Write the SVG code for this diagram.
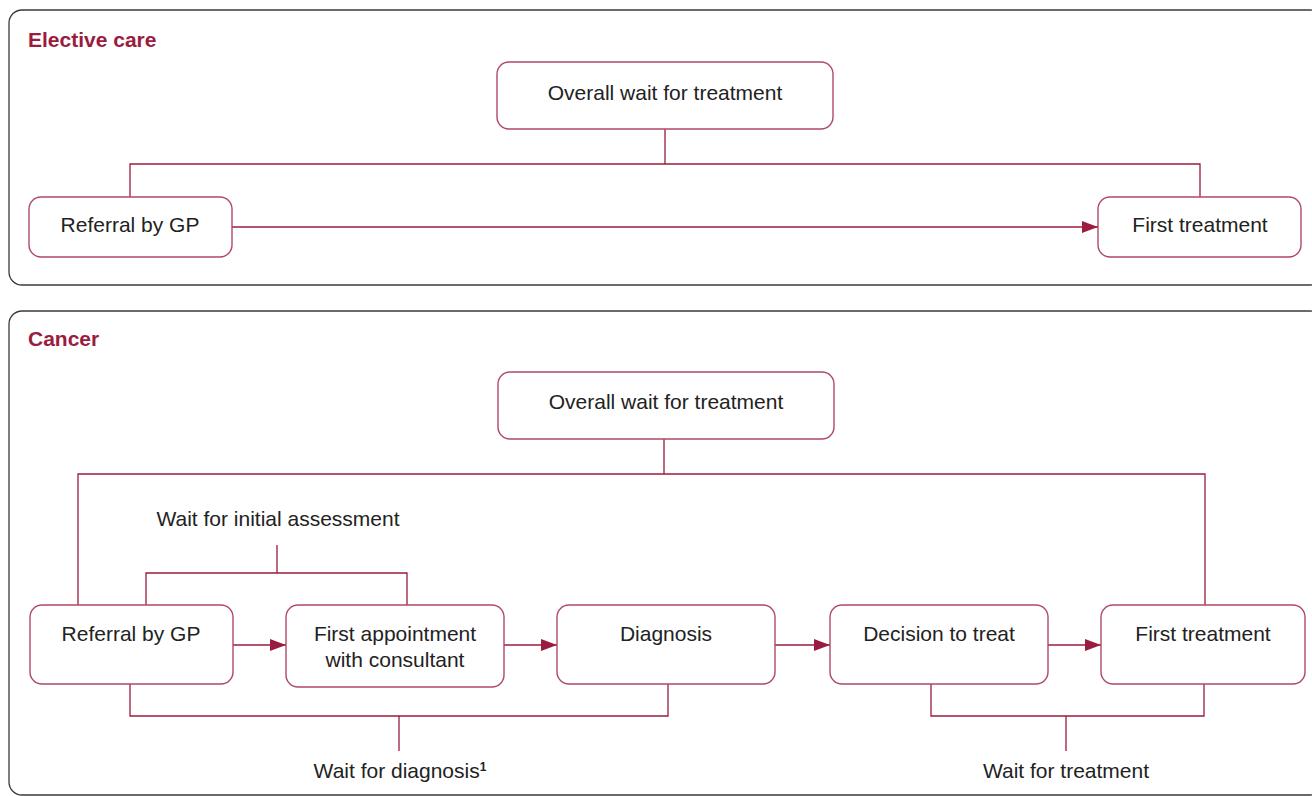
<svg xmlns="http://www.w3.org/2000/svg" width="1312" height="796" viewBox="0 0 1312 796">
<defs>
<marker id="ah" markerWidth="16" markerHeight="12" refX="16" refY="6" orient="auto" markerUnits="userSpaceOnUse">
<path d="M0,0 L16,6 L0,12 Z" fill="#9a1c3e"/>
</marker>
</defs>
<style>
.panel{fill:#fff;stroke:#3a3a3a;stroke-width:1.3}
.node{fill:#fff;stroke:#b04a64;stroke-width:1.4}
.t{font-family:"Liberation Sans",Arial,sans-serif;font-size:21px;fill:#222}
.title{font-family:"Liberation Sans",Arial,sans-serif;font-size:21px;font-weight:bold;fill:#9a1c3e}
.ln{fill:none;stroke:#9a1c3e;stroke-width:1.3}
.ar{fill:none;stroke:#9a1c3e;stroke-width:1.3;marker-end:url(#ah)}
</style>
<rect width="1312" height="796" fill="#fff"/>
<g id="panel-elective">
<rect class="panel" x="9" y="10" width="1314" height="275" rx="13"/>
<text class="title" x="28" y="47">Elective care</text>
</g>
<g id="panel-cancer">
<rect class="panel" x="9" y="311" width="1314" height="484" rx="13"/>
<text class="title" x="28" y="346">Cancer</text>
</g>
<g id="connectors">
<path class="ln" d="M665,129 V164 M130,197 V164 H1200 V197"/>
<line class="ar" x1="232" y1="227" x2="1098" y2="227"/>
<path class="ln" d="M664,439 V474 M78,605 V474 H1205 V605"/>
<path class="ln" d="M277,545 V573 M146,605 V573 H407 V605"/>
<line class="ar" x1="233" y1="645" x2="286" y2="645"/>
<line class="ar" x1="504" y1="645" x2="557" y2="645"/>
<line class="ar" x1="775" y1="645" x2="830" y2="645"/>
<line class="ar" x1="1048" y1="645" x2="1101" y2="645"/>
<path class="ln" d="M130,684 V716 H668 V684 M399,716 V751"/>
<path class="ln" d="M931,684 V716 H1204 V684 M1066,716 V751"/>
</g>
<g id="e-overall">
<rect class="node" x="497" y="62" width="336" height="67" rx="12"/>
<text class="t" x="665" y="100" text-anchor="middle">Overall wait for treatment</text>
</g>
<g id="e-referral">
<rect class="node" x="29" y="197" width="203" height="60" rx="12"/>
<text class="t" x="130" y="232" text-anchor="middle">Referral by GP</text>
</g>
<g id="e-first">
<rect class="node" x="1098" y="197" width="203" height="60" rx="12"/>
<text class="t" x="1200" y="232" text-anchor="middle">First treatment</text>
</g>
<g id="c-overall">
<rect class="node" x="498" y="372" width="336" height="67" rx="12"/>
<text class="t" x="666" y="409" text-anchor="middle">Overall wait for treatment</text>
</g>
<g id="c-referral">
<rect class="node" x="30" y="605" width="203" height="79" rx="12"/>
<text class="t" x="131" y="641" text-anchor="middle">Referral by GP</text>
</g>
<g id="c-firstappt">
<rect class="node" x="286" y="605" width="218" height="82" rx="12"/>
<text class="t" x="395" y="641" text-anchor="middle">First appointment</text>
<text class="t" x="395" y="667" text-anchor="middle">with consultant</text>
</g>
<g id="c-diagnosis">
<rect class="node" x="557" y="605" width="218" height="79" rx="12"/>
<text class="t" x="666" y="641" text-anchor="middle">Diagnosis</text>
</g>
<g id="c-decision">
<rect class="node" x="830" y="605" width="218" height="79" rx="12"/>
<text class="t" x="939" y="641" text-anchor="middle">Decision to treat</text>
</g>
<g id="c-first">
<rect class="node" x="1101" y="605" width="204" height="79" rx="12"/>
<text class="t" x="1203" y="641" text-anchor="middle">First treatment</text>
</g>
<g id="labels">
<text class="t" x="278" y="526" text-anchor="middle">Wait for initial assessment</text>
<text class="t" x="400" y="778" text-anchor="middle">Wait for diagnosis<tspan font-size="12" font-weight="bold" dy="-7">1</tspan></text>
<text class="t" x="1066" y="778" text-anchor="middle">Wait for treatment</text>
</g>
</svg>
